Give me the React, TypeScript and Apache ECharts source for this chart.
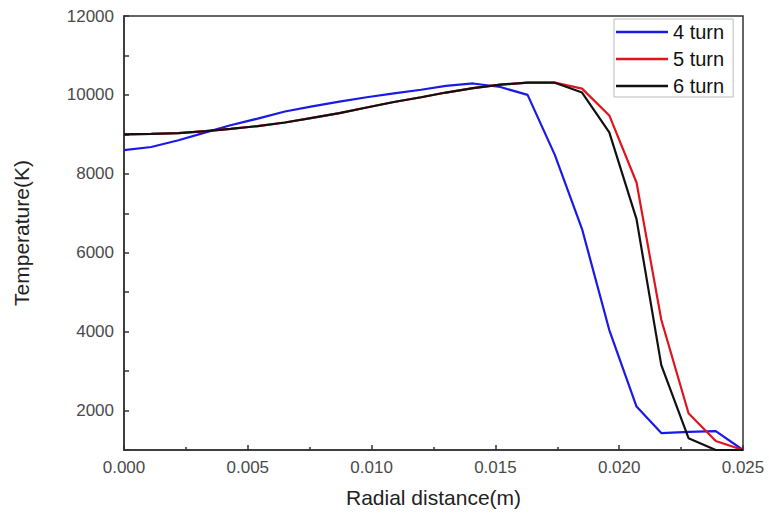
import React, { useEffect, useRef } from "react";
import * as echarts from "echarts";

const radialDistance = [
  0, 0.0011, 0.0022, 0.0033, 0.0043, 0.0054, 0.0065, 0.0076, 0.0087, 0.0098, 0.0109, 0.012,
  0.013, 0.0141, 0.0152, 0.0163, 0.0174, 0.0185, 0.0196, 0.0207, 0.0217, 0.0228, 0.0239, 0.025,
];
const turn4 = [
  8600, 8680, 8850, 9050, 9230, 9400, 9580, 9710, 9830, 9940, 10040, 10130,
  10230, 10290, 10200, 10000, 8480, 6600, 4040, 2100, 1430, 1460, 1480, 1000,
];
const turn5 = [
  9000, 9010, 9030, 9080, 9140, 9210, 9300, 9420, 9540, 9680, 9820, 9940,
  10060, 10170, 10260, 10310, 10310, 10160, 9480, 7780, 4300, 1930, 1230, 1000,
];
const turn6 = [
  9000, 9010, 9030, 9080, 9140, 9210, 9300, 9420, 9540, 9680, 9820, 9940,
  10060, 10170, 10260, 10310, 10310, 10060, 9050, 6850, 3150, 1300, 1000, 1000,
];
const seriesNames = ["4 turn", "5 turn", "6 turn"];
const seriesColors = ["#1a1ae6", "#e0141e", "#111111"];

const FONT = "'Liberation Sans', Arial, sans-serif";

export default function App() {
  const ref = useRef<HTMLDivElement>(null);
  useEffect(() => {
    if (!ref.current) return;
    const chart = echarts.init(ref.current, undefined, { renderer: "svg" });
    const all = [turn4, turn5, turn6];
    chart.setOption({
      animation: false,
      backgroundColor: "#ffffff",
      textStyle: { fontFamily: FONT },
      grid: {
        left: 124,
        right: 26,
        top: 16,
        bottom: 69,
        show: true,
        borderColor: "#333",
        borderWidth: 1.5,
        backgroundColor: "transparent",
      },
      legend: {
        orient: "vertical",
        left: 614,
        top: 19,
        padding: [3, 9, 1, 2],
        icon: "rect",
        itemWidth: 52,
        itemHeight: 2.5,
        itemGap: 7,
        borderColor: "#bbbbbb",
        borderWidth: 1,
        backgroundColor: "#ffffff",
        textStyle: { fontFamily: FONT, fontSize: 20, lineHeight: 20, color: "#111" },
        data: seriesNames,
      },
      xAxis: {
        type: "value",
        min: 0,
        max: 0.025,
        interval: 0.005,
        name: "Radial distance(m)",
        nameLocation: "middle",
        nameGap: 37,
        nameTextStyle: { fontFamily: FONT, fontSize: 21, color: "#222" },
        axisLine: { show: true, lineStyle: { color: "#333", width: 1.5 } },
        axisTick: { show: true, inside: true, length: 5, lineStyle: { color: "#333", width: 1.5 } },
        minorTick: { show: true, splitNumber: 2, length: 3, lineStyle: { color: "#333", width: 1.5 } },
        splitLine: { show: false },
        axisLabel: {
          fontFamily: FONT,
          fontSize: 17,
          color: "#4a4a4a",
          margin: 9,
          formatter: (v: number) => v.toFixed(3),
        },
      },
      yAxis: {
        type: "value",
        min: 1000,
        max: 12000,
        interval: 1000,
        name: "Temperature(K)",
        nameLocation: "middle",
        nameGap: 92,
        nameTextStyle: { fontFamily: FONT, fontSize: 21, color: "#222" },
        axisLine: { show: true, lineStyle: { color: "#333", width: 1.5 } },
        axisTick: { show: true, inside: true, length: 5, lineStyle: { color: "#333", width: 1.5 } },
        splitLine: { show: false },
        axisLabel: {
          fontFamily: FONT,
          fontSize: 17,
          color: "#4a4a4a",
          margin: 10,
          formatter: (v: number) => (v % 2000 === 0 ? String(v) : ""),
        },
      },
      series: seriesNames.map((name, i) => ({
        name,
        type: "line",
        symbol: "none",
        smooth: false,
        data: radialDistance.map((x, j) => [x, all[i][j]]),
        lineStyle: { color: seriesColors[i], width: 2.2 },
        itemStyle: { color: seriesColors[i] },
      })),
    });
    return () => chart.dispose();
  }, []);
  return <div ref={ref} style={{ width: 769, height: 519, position: "absolute", left: 0, top: 0 }} />;
}
